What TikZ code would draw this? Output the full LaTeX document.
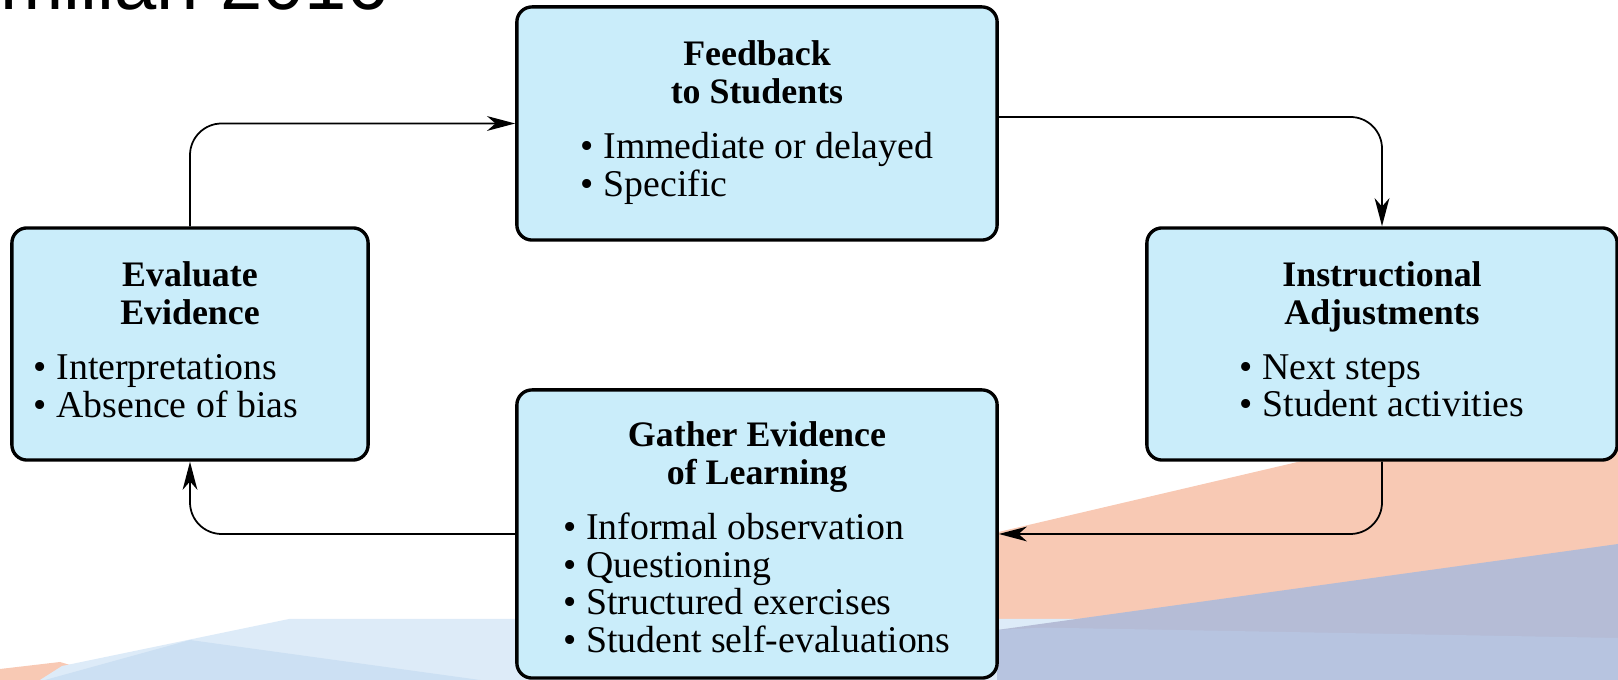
\documentclass[tikz,border=0pt]{standalone}
\usepackage{fontspec}
\setmainfont{Liberation Serif}
\newfontfamily\slidefont{Liberation Sans}
\usetikzlibrary{arrows.meta}

\definecolor{boxfill}{RGB}{202,237,250}
\definecolor{peach}{RGB}{248,201,180}
\definecolor{slate}{RGB}{181,188,214}
\definecolor{slatelow}{RGB}{183,196,224}
\definecolor{paleblue}{RGB}{221,235,248}
\definecolor{midblue}{RGB}{204,224,243}

% heading lines and bullet block of one stage
\newcommand{\hd}[1]{{\fontsize{10.2}{10.8}\selectfont\bfseries #1}}
\newcommand{\stagetext}[3][0pt]{%
  \begin{tabular}{@{}c@{}}#2\\[4.8pt]%
  \begin{tabular}[t]{@{}l@{}}#3\end{tabular}\hspace*{#1}\end{tabular}}

\begin{document}
\begin{tikzpicture}[
    x=0.01cm, y=-0.01cm,
    stage/.style={draw, line width=0.95pt, rounded corners=4.3pt, fill=boxfill, inner sep=0pt, font=\fontsize{10.75}{10.8}\selectfont},
    link/.style={-{Stealth[length=8pt, width=4.2pt, inset=2.4pt]}, line width=0.5pt, rounded corners=9pt},
]
\useasboundingbox (0,0) rectangle (1618,680);

% Backdrop
\fill[peach] (0,680) -- (0,669) -- (60,662) -- (120,680) -- cycle;
\fill[peach] (960,541) -- (1618,387) -- (1618,680) -- (960,680) -- cycle;
\fill[paleblue] (40,680) -- (62,666) -- (289,619) -- (1100,619) -- (1100,680) -- cycle;
\fill[midblue] (45,680) -- (190,640) -- (480,680) -- cycle;
\fill[slate] (997,630) -- (1618,544) -- (1618,680) -- (997,680) -- cycle;
\fill[slatelow] (1043,627.6) -- (1618,638) -- (1618,680) -- (997,680) -- (997,630) -- cycle;

% Slide title, cut by the top edge
\node[font=\slidefont\fontsize{21.6}{24}\selectfont, anchor=base west, inner sep=0pt] (source) at (0,10) {millan 2016};

% Four stages
\node[stage, minimum width=4.8cm, minimum height=2.33cm] (feedback) at (757,123.5) {%
    \stagetext{\hd{Feedback}\\\hd{to Students}}{\textbullet\ Immediate or delayed\\\textbullet\ Specific}};

\node[stage, minimum width=4.7cm, minimum height=2.32cm] (instruct) at (1382,344) {%
    \stagetext{\hd{Instructional}\\\hd{Adjustments}}{\textbullet\ Next steps\\\textbullet\ Student activities}};

\node[stage, minimum width=4.8cm, minimum height=2.88cm] (gather) at (757,534) {%
    \stagetext{\rule{0pt}{12.1pt}\hd{Gather Evidence}\\\hd{of Learning}}{\textbullet\ Informal observation\\\textbullet\ Questioning\\\textbullet\ Structured exercises\\\textbullet\ Student self-evaluations}};

\node[stage, minimum width=3.56cm, minimum height=2.32cm] (evaluate) at (190,344) {%
    \stagetext[0.48cm]{\hd{Evaluate}\\\hd{Evidence}}{\textbullet\ Interpretations\\\textbullet\ Absence of bias}};

% Cycle
\draw[link] (evaluate.north) |- (feedback.west);
\draw[link] ([yshift=0.065cm]feedback.east) -| (instruct.north);
\draw[link] (instruct.south) |- (gather.east);
\draw[link] (gather.west) -| (evaluate.south);

\end{tikzpicture}
\end{document}
